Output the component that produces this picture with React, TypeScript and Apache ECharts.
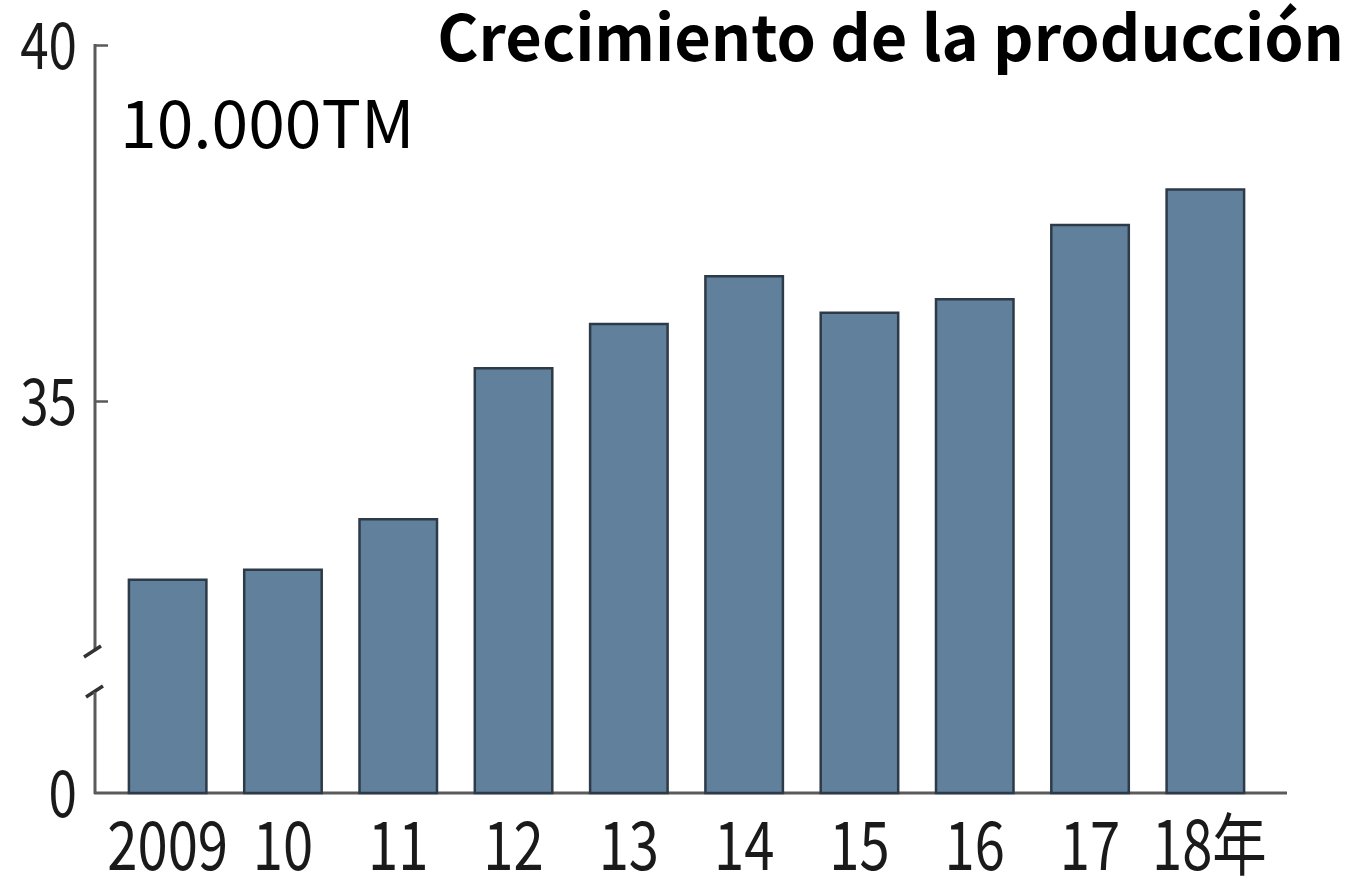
import React, { useEffect, useRef } from "react";
import * as echarts from "echarts";

const categories = ["2009", "10", "11", "12", "13", "14", "15", "16", "17", "18年"];
const production = [32.51, 32.65, 33.36, 35.48, 36.1, 36.77, 36.26, 36.45, 37.49, 37.99];
const axisMin = 29.5; // shown as "0" (axis is broken)
const axisMax = 40;
const tickValues = [35, 40];
const yLabelValues = [29.5, 35, 40];
const yLabelTexts = ["0", "35", "40"];
const titleText = "Crecimiento de la producción";
const unitText = "10.000TM";

const labelFont = "68px 'Noto Sans CJK JP', 'Noto Sans', sans-serif";
const axisColor = "#5a5a5a";

export default function App() {
  const ref = useRef<HTMLDivElement>(null);
  useEffect(() => {
    if (!ref.current) return;
    const chart = echarts.init(ref.current, null, { renderer: "svg" });
    chart.setOption({
      animation: false,
      backgroundColor: "#ffffff",
      grid: { left: 110, right: 92, top: 45, bottom: 86, containLabel: false },
      xAxis: {
        type: "category",
        data: categories,
        axisLine: { show: false },
        axisTick: { show: false },
        axisLabel: { show: false },
      },
      yAxis: {
        type: "value",
        min: axisMin,
        max: axisMax,
        offset: 15,
        splitLine: { show: false },
        axisLine: { show: false },
        axisTick: {
          show: true,
          inside: true,
          length: 13,
          customValues: tickValues,
          lineStyle: { color: axisColor, width: 2.5 },
        },
        axisLabel: { show: false },
      },
      series: [
        {
          type: "bar",
          data: production,
          barWidth: 80,
          itemStyle: {
            color: "#61809c",
            borderColor: "#2d3a47",
            borderWidth: 2.5,
          },
        },
      ],
    });

    const xLabels = categories.map((c, i) => {
      const p = chart.convertToPixel({ gridIndex: 0 }, [i, axisMin]) as number[];
      return {
        type: "text",
        x: p[0] + (i === categories.length - 1 ? 4 : 0),
        y: p[1] + 48,
        scaleX: 0.8,
        style: { text: c, font: labelFont, lineHeight: 60, align: "center", verticalAlign: "middle", fill: "#1a1a1a" },
      };
    });
    const yLabels = yLabelValues.map((v, i) => {
      const p = chart.convertToPixel({ gridIndex: 0 }, [0, v]) as number[];
      return {
        type: "text",
        x: 77,
        y: p[1] - 4,
        scaleX: 0.8,
        style: { text: yLabelTexts[i], font: "64px 'Noto Sans CJK JP', 'Noto Sans', sans-serif", lineHeight: 56, align: "right", verticalAlign: "middle", fill: "#1a1a1a" },
      };
    });

    chart.setOption({
      graphic: [
        // broken y-axis line
        { type: "line", shape: { x1: 95, y1: 44, x2: 95, y2: 651 }, style: { stroke: axisColor, lineWidth: 3 } },
        { type: "line", shape: { x1: 84, y1: 657, x2: 101, y2: 646 }, style: { stroke: "#333", lineWidth: 3.5 } },
        { type: "line", shape: { x1: 86, y1: 697, x2: 103, y2: 686 }, style: { stroke: "#333", lineWidth: 3.5 } },
        { type: "line", shape: { x1: 95, y1: 692, x2: 95, y2: 794 }, style: { stroke: axisColor, lineWidth: 3 } },
        // x-axis line
        { type: "line", shape: { x1: 94, y1: 793, x2: 1287, y2: 793 }, style: { stroke: axisColor, lineWidth: 3 } },
        {
          type: "text",
          x: 1344,
          y: 33,
          style: {
            text: titleText,
            font: "bold 63px 'Noto Sans CJK JP', 'Noto Sans', sans-serif",
            lineHeight: 66,
            align: "right",
            verticalAlign: "middle",
            fill: "#000",
          },
        },
        {
          type: "text",
          x: 120,
          y: 119,
          style: {
            text: unitText,
            font: "66px 'Noto Sans CJK JP', 'Noto Sans', sans-serif",
            lineHeight: 70,
            align: "left",
            verticalAlign: "middle",
            fill: "#000",
          },
        },
        ...xLabels,
        ...yLabels,
      ],
    });
    return () => chart.dispose();
  }, []);
  return <div ref={ref} style={{ width: 1355, height: 879, position: "fixed", left: 0, top: 0 }} />;
}
